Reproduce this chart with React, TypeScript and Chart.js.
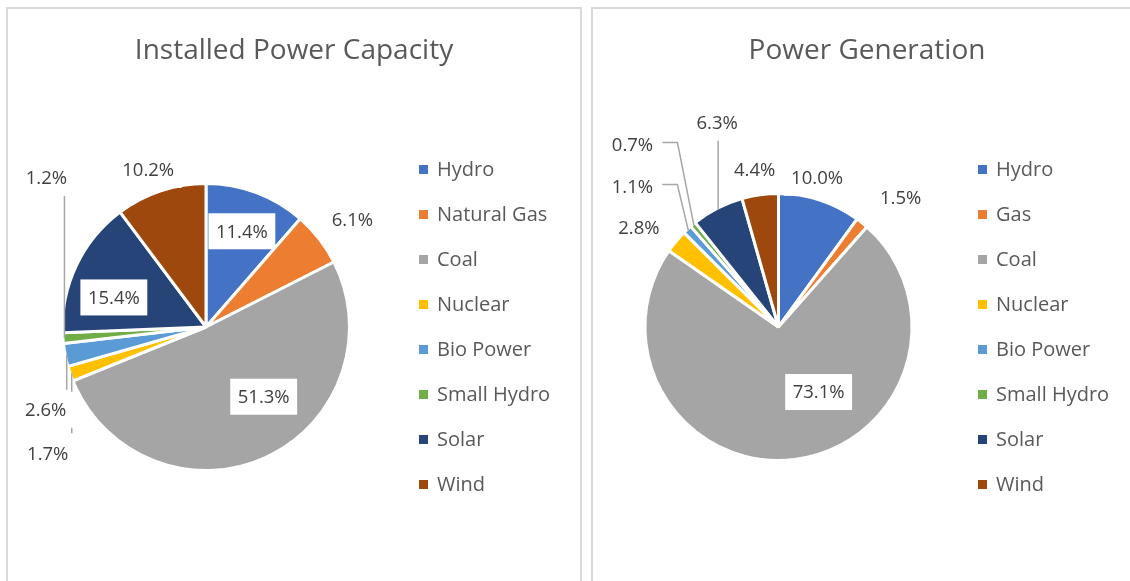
import React, { useEffect, useRef } from 'react';
import { Chart, registerables } from 'chart.js';

Chart.register(...registerables);

// ---------- data ----------
const capacityCategories = ['Hydro', 'Natural Gas', 'Coal', 'Nuclear', 'Bio Power', 'Small Hydro', 'Solar', 'Wind'];
const capacityValues = [11.4, 6.1, 51.3, 1.7, 2.6, 1.2, 15.4, 10.2];

const generationCategories = ['Hydro', 'Gas', 'Coal', 'Nuclear', 'Bio Power', 'Small Hydro', 'Solar', 'Wind'];
const generationValues = [10.0, 1.5, 73.1, 2.8, 1.1, 0.7, 6.3, 4.4];

const sliceColors = ['#4472C4', '#ED7D31', '#A5A5A5', '#FFC000', '#5B9BD5', '#70AD47', '#264478', '#9E480E'];

// ---------- label placement (style) ----------
type Placement = { f: number; dx: number; dy: number; fill?: boolean; leader?: 'v' | 'elbow' };

const capacityPlacement: Placement[] = [
  { f: 0.72, dx: 0, dy: 0, fill: true },
  { f: 1.28, dx: 3, dy: 4 },
  { f: 0.64, dx: 20, dy: -13, fill: true },
  { f: 1, dx: -24, dy: 80, leader: 'v' },
  { f: 1, dx: -21, dy: 55, leader: 'v', fill: true },
  { f: 1, dx: -18, dy: -160, leader: 'v' },
  { f: 0.68, dx: -5, dy: 12, fill: true },
  { f: 1.18, dx: -5, dy: 2 },
];

const generationPlacement: Placement[] = [
  { f: 1.165, dx: -9, dy: -3 },
  { f: 1.345, dx: 11, dy: 9.5 },
  { f: 0.58, dx: 31, dy: -11, fill: true },
  { f: 1.3, dx: -8, dy: 11 },
  { f: 1, dx: -56, dy: -43.6, leader: 'elbow' },
  { f: 1, dx: -61.5, dy: -80.5, leader: 'elbow' },
  { f: 1, dx: -1, dy: -87, leader: 'v' },
  { f: 1.2, dx: -2, dy: 0 },
];

const FONT = '"Open Sans", sans-serif';

const decorPlugin = {
  id: 'decor',
  afterDraw(chart: any, _args: any, opts: any) {
    const ctx: CanvasRenderingContext2D = chart.ctx;
    const meta = chart.getDatasetMeta(0);
    const ds = chart.data.datasets[0];
    const values: number[] = ds.data;
    ctx.save();

    // title
    ctx.font = `${opts.titleSize}px ${FONT}`;
    ctx.fillStyle = '#595959';
    ctx.textAlign = 'center';
    ctx.textBaseline = 'alphabetic';
    ctx.fillText(opts.title, chart.width / 2, opts.titleBaseline);

    // legend
    ctx.font = `${opts.legendSize}px ${FONT}`;
    ctx.textAlign = 'left';
    ctx.textBaseline = 'middle';
    chart.data.labels.forEach((lab: string, i: number) => {
      const y = opts.legendTop + i * opts.legendGap;
      ctx.fillStyle = ds.backgroundColor[i];
      ctx.fillRect(opts.legendX, y - 4.5, 9, 9);
      ctx.fillStyle = '#595959';
      ctx.fillText(lab, opts.legendX + 18, y + 1);
    });

    // label positions from the arcs
    const pts = meta.data.map((arc: any, i: number) => {
      const p = arc.getProps(['x', 'y', 'startAngle', 'endAngle', 'outerRadius'], true);
      const mid = (p.startAngle + p.endAngle) / 2;
      const pl: Placement = opts.placements[i];
      const R = p.outerRadius - 1.5;
      return {
        edge: { x: p.x + Math.cos(mid) * R, y: p.y + Math.sin(mid) * R },
        lx: p.x + Math.cos(mid) * R * pl.f + pl.dx,
        ly: p.y + Math.sin(mid) * R * pl.f + pl.dy,
        pl,
      };
    });

    // leader lines
    ctx.strokeStyle = '#a6a6a6';
    ctx.lineWidth = 1.5;
    pts.forEach((pt: any) => {
      if (pt.pl.leader === 'v') {
        const endY = pt.ly < pt.edge.y ? pt.ly + 17 : pt.ly - 20;
        ctx.beginPath();
        ctx.moveTo(pt.edge.x, pt.edge.y);
        ctx.lineTo(pt.edge.x, endY);
        ctx.stroke();
      } else if (pt.pl.leader === 'elbow') {
        ctx.beginPath();
        ctx.moveTo(pt.edge.x, pt.edge.y);
        ctx.lineTo(pt.lx + 45, pt.ly - 2.5);
        ctx.lineTo(pt.lx + 30, pt.ly - 2.5);
        ctx.stroke();
      }
    });

    // label text
    ctx.font = `${opts.labelSize}px ${FONT}`;
    ctx.textAlign = 'center';
    ctx.textBaseline = 'middle';
    pts.forEach((pt: any, i: number) => {
      const text = values[i].toFixed(1) + '%';
      const w = ctx.measureText(text).width;
      if (pt.pl.fill) {
        ctx.fillStyle = '#ffffff';
        ctx.fillRect(pt.lx - w / 2 - 7.5, pt.ly - 18, w + 15, 36);
      }
      ctx.fillStyle = '#404040';
      ctx.fillText(text, pt.lx, pt.ly + 1);
    });

    ctx.restore();
  },
};

type PieProps = {
  title: string;
  categories: string[];
  values: number[];
  placements: Placement[];
  width: number;
  height: number;
  radius: number;
  padding: { left: number; right: number; top: number; bottom: number };
  legendX: number;
};

function PiePanel(props: PieProps) {
  const ref = useRef<HTMLCanvasElement | null>(null);
  useEffect(() => {
    if (!ref.current) return;
    const chart = new Chart(ref.current, {
      type: 'pie',
      data: {
        labels: props.categories,
        datasets: [
          {
            data: props.values,
            backgroundColor: sliceColors,
            borderColor: '#ffffff',
            borderWidth: 3,
            radius: props.radius,
          } as any,
        ],
      },
      options: {
        responsive: false,
        animation: false,
        events: [],
        layout: { padding: props.padding },
        plugins: {
          legend: { display: false },
          tooltip: { enabled: false },
          title: { display: false },
          decor: {
            title: props.title,
            titleSize: 28,
            titleBaseline: 50,
            legendSize: 20,
            legendX: props.legendX,
            legendTop: 160.5,
            legendGap: 45,
            labelSize: 18.5,
            placements: props.placements,
          },
        } as any,
      },
      plugins: [decorPlugin as any],
    });
    return () => chart.destroy();
  }, []);
  return <canvas ref={ref} width={props.width} height={props.height} style={{ display: 'block' }} />;
}

export default function App() {
  return (
    <div
      style={{
        position: 'fixed',
        left: 0,
        top: 0,
        width: 1130,
        height: 581,
        overflow: 'hidden',
        background: '#ffffff',
      }}
    >
      <div
        style={{
          position: 'absolute',
          left: 6,
          top: 7,
          width: 572,
          height: 600,
          border: '2px solid #d9d9d9',
        }}
      >
        <PiePanel
          title="Installed Power Capacity"
          categories={capacityCategories}
          values={capacityValues}
          placements={capacityPlacement}
          width={572}
          height={572}
          radius={143.5}
          padding={{ left: 20, right: 196, top: 100, bottom: 36 }}
          legendX={411}
        />
      </div>
      <div
        style={{
          position: 'absolute',
          left: 591,
          top: 7,
          width: 548,
          height: 600,
          border: '2px solid #d9d9d9',
        }}
      >
        <PiePanel
          title="Power Generation"
          categories={generationCategories}
          values={generationValues}
          placements={generationPlacement}
          width={548}
          height={572}
          radius={133.5}
          padding={{ left: 20, right: 197, top: 100, bottom: 36 }}
          legendX={385}
        />
      </div>
    </div>
  );
}
